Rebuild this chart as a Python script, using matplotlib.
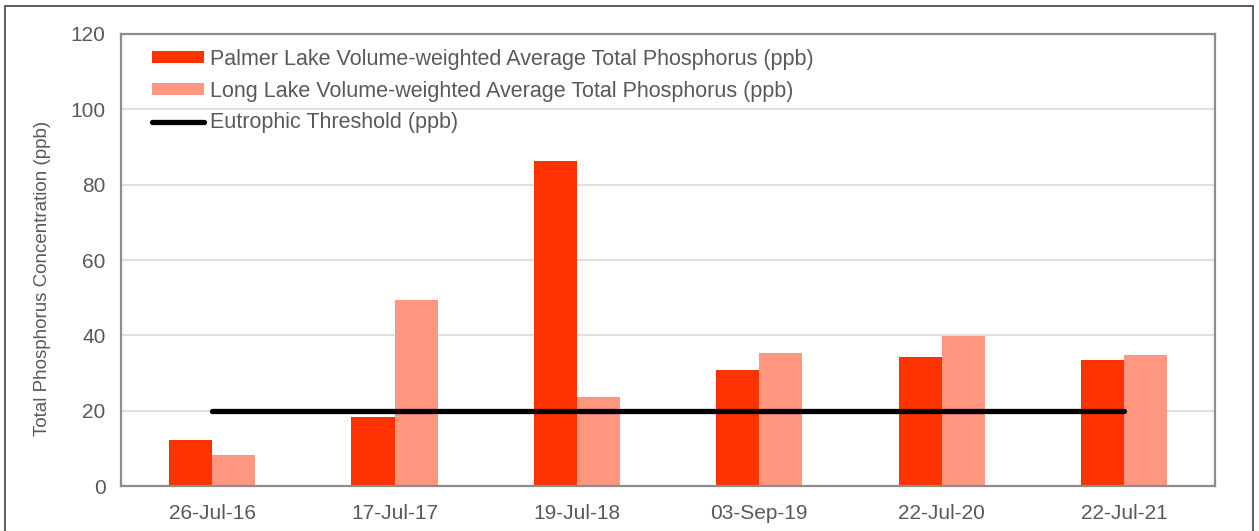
import matplotlib
matplotlib.use("Agg")
import matplotlib.pyplot as plt
from matplotlib.patches import Rectangle
import numpy as np

plt.rcParams["font.family"] = ["Liberation Sans", "DejaVu Sans"]

dates = ["26-Jul-16", "17-Jul-17", "19-Jul-18", "03-Sep-19", "22-Jul-20", "22-Jul-21"]
palmer_tp = [12.2, 18.4, 86.4, 30.9, 34.2, 33.5]
long_tp = [8.3, 49.3, 23.7, 35.4, 39.8, 34.8]
eutrophic = [20, 20, 20, 20, 20, 20]

PALMER = "#ff3300"
LONG = "#ff9680"
TEXT = "#595959"

fig = plt.figure(figsize=(12.59, 5.31), dpi=100)
ax = fig.add_axes([0.0961, 0.0847, 0.869, 0.8513])

x = np.arange(len(dates))
width = 0.236
b1 = ax.bar(x - width / 2, palmer_tp, width, color=PALMER, zorder=2)
b2 = ax.bar(x + width / 2, long_tp, width, color=LONG, zorder=2)
(ln,) = ax.plot(x, eutrophic, color="black", lw=3.8, solid_capstyle="round", zorder=3)

ax.set_xlim(-0.5, len(dates) - 0.5)
ax.set_ylim(0, 120)
ax.set_yticks(range(0, 121, 20))
ax.set_xticks(x, labels=dates)
ax.tick_params(axis="both", length=0, colors=TEXT, labelsize=15)
ax.tick_params(axis="y", pad=11)
ax.tick_params(axis="x", pad=13)
ax.yaxis.grid(True, color="#d9d9d9", lw=1.2, zorder=0)
ax.set_axisbelow(True)
for spine in ax.spines.values():
    spine.set_color("#8c8c8c")
    spine.set_linewidth(1.6)
ax.set_ylabel("Total Phosphorus Concentration (ppb)", color=TEXT, fontsize=13.5)
ax.yaxis.set_label_coords(-0.064, 0.46)

leg = ax.legend([b1, b2, ln],
                ["Palmer Lake Volume-weighted Average Total Phosphorus (ppb)",
                 "Long Lake Volume-weighted Average Total Phosphorus (ppb)",
                 "Eutrophic Threshold (ppb)"],
                loc="upper left", bbox_to_anchor=(0.0283, 0.967), frameon=False,
                fontsize=15.5, handlelength=2.4, handleheight=0.49, handletextpad=0.28,
                labelspacing=0.5, borderaxespad=0, borderpad=0)
for t in leg.get_texts():
    t.set_color(TEXT)

# outer chart border
fig.patches.append(Rectangle((5 / 1259, -0.05), 1248 / 1259, 1.05 - 6 / 531,
                             transform=fig.transFigure, fill=False,
                             edgecolor="#404040", lw=1.2))

fig.savefig("out.png", dpi=100)
